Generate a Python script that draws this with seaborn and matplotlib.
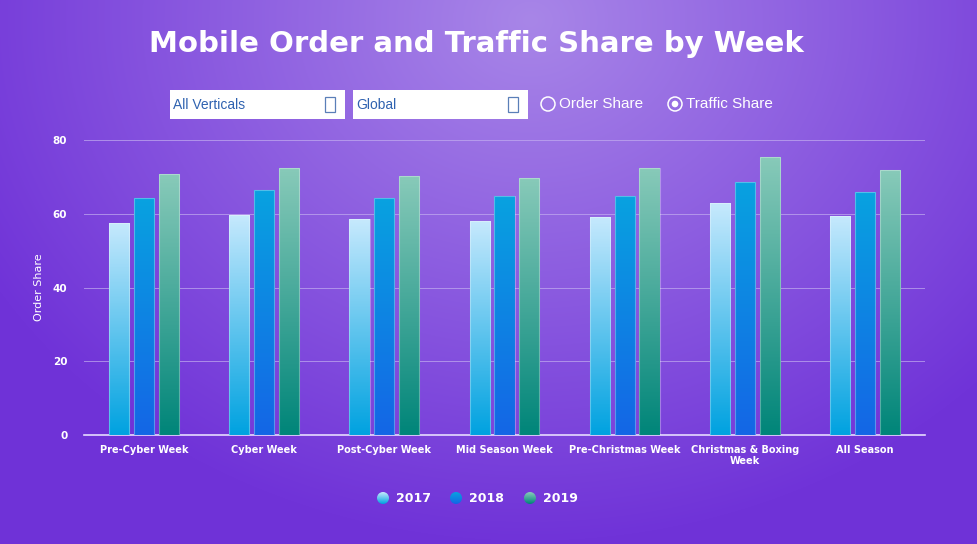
import matplotlib
matplotlib.use("Agg")
import matplotlib.pyplot as plt
from matplotlib.colors import LinearSegmentedColormap
from matplotlib.patches import Rectangle, Circle
import numpy as np
import pandas as pd
import seaborn as sns

# %% data
weeks = ["Pre-Cyber Week", "Cyber Week", "Post-Cyber Week", "Mid Season Week",
         "Pre-Christmas Week", "Christmas & Boxing\nWeek", "All Season"]
years = ["2017", "2018", "2019"]
share_2017 = [57.6, 59.7, 58.5, 58.1, 59.2, 62.8, 59.5]
share_2018 = [64.4, 66.5, 64.4, 64.9, 64.9, 68.7, 65.8]
share_2019 = [70.7, 72.5, 70.3, 69.8, 72.5, 75.5, 71.9]

df = pd.DataFrame({
    "week": weeks * 3,
    "year": [y for y in years for _ in weeks],
    "share": share_2017 + share_2018 + share_2019,
})

# bottom -> top colours of each bar gradient
grads = {
    "2017": ["#00a2e0", "#c6e9fd"],
    "2018": ["#1466e6", "#08a2e0"],
    "2019": ["#008579", "#88cab9"],
}
palette = {y: grads[y][0] for y in years}

W, H = 978, 544
fig = plt.figure(figsize=(W / 100, H / 100), dpi=100)

# background: purple radial gradient, drawn in pixel coordinates
bg = fig.add_axes([0, 0, 1, 1], zorder=0)
yy, xx = np.mgrid[0:H, 0:W]
r = np.sqrt(((xx - 530) / 620.0) ** 2 + ((yy - 20) / 520.0) ** 2)
r = np.clip(r, 0, 1)[..., None]
c_in = np.array([0xa8, 0x86, 0xe8]) / 255
c_out = np.array([0x70, 0x33, 0xd8]) / 255
bg.imshow(c_in * (1 - r) + c_out * r, extent=[0, W, H, 0], aspect="auto")
bg.set_xlim(0, W)
bg.set_ylim(H, 0)
bg.axis("off")

# title
bg.text(476, 44, "Mobile Order and Traffic Share by Week", color="white",
        fontsize=21, fontweight="bold", ha="center", va="center")

# dropdowns and radio buttons
for x0, label in [(170, "All Verticals"), (353, "Global")]:
    bg.add_patch(Rectangle((x0, 90), 175, 29, facecolor="white", edgecolor="none"))
    bg.text(x0 + 3, 105, label, color="#2f62b0", fontsize=10,
            family="Liberation Sans", va="center")
    bg.add_patch(Rectangle((x0 + 155, 97), 10, 15, facecolor="none",
                           edgecolor="#5a7fb8", lw=0.9))
for cx, label, sel in [(548, "Order Share", False), (675, "Traffic Share", True)]:
    bg.add_patch(Circle((cx, 104), 7, facecolor="none", edgecolor="white", lw=1.1))
    if sel:
        bg.add_patch(Circle((cx, 104), 3.3, facecolor="white", edgecolor="none"))
    bg.text(cx + 11, 104, label, color="white", fontsize=11,
            family="Liberation Sans", va="center")

# legend with gradient dots
for cx, y in zip([383, 456, 530], years):
    cmap = LinearSegmentedColormap.from_list(y, grads[y])
    dot = Circle((cx, 498), 6, facecolor="none", edgecolor="none")
    bg.add_patch(dot)
    im = bg.imshow(np.linspace(1, 0, 50)[:, None], cmap=cmap, vmin=0, vmax=1,
                   extent=[cx - 6, cx + 6, 504, 492], aspect="auto")
    im.set_clip_path(dot)
    bg.text(cx + 13, 498, y, color="white", fontsize=9, fontweight="bold",
            va="center")
bg.set_xlim(0, W)
bg.set_ylim(H, 0)

# main chart
ax = fig.add_axes([84 / W, 1 - 435 / H, (925 - 84) / W, (435 - 140) / H], zorder=1)
ax.patch.set_alpha(0)
sns.barplot(data=df, x="week", y="share", hue="year", palette=palette,
            width=0.62, gap=0.19, legend=False, ax=ax, zorder=3)

for cont, y in zip(ax.containers, years):
    cmap = LinearSegmentedColormap.from_list(y, grads[y])
    for bar in cont:
        x0, w, h = bar.get_x(), bar.get_width(), bar.get_height()
        im = ax.imshow(np.linspace(1, 0, 200)[:, None], cmap=cmap, vmin=0, vmax=1,
                       extent=[x0, x0 + w, 0, h], aspect="auto", zorder=3)
        im.set_clip_path(bar)
        bar.set_facecolor("none")
        bar.set_edgecolor((1, 1, 1, 0.3))
        bar.set_linewidth(0.8)
        bar.set_zorder(4)

ax.set_xlim(-0.5, len(weeks) - 0.5)
ax.set_ylim(0, 80)
ax.set_yticks([0, 20, 40, 60, 80])
ax.grid(axis="y", color="#c3aef0", lw=0.7, alpha=0.7, zorder=0)
ax.set_axisbelow(True)
for s in ["top", "right", "left"]:
    ax.spines[s].set_visible(False)
ax.spines["bottom"].set_color("#e6dcff")
ax.spines["bottom"].set_linewidth(1.2)
ax.tick_params(axis="both", length=0, colors="white", labelsize=7)
ax.tick_params(axis="y", pad=12, labelsize=7.5)
ax.tick_params(axis="x", pad=7)
for lab in ax.get_xticklabels() + ax.get_yticklabels():
    lab.set_fontweight("bold")
ax.set_xlabel("")
ax.set_ylabel("Order Share", color="white", fontsize=8, labelpad=6)

fig.savefig("out.png", dpi=100)
